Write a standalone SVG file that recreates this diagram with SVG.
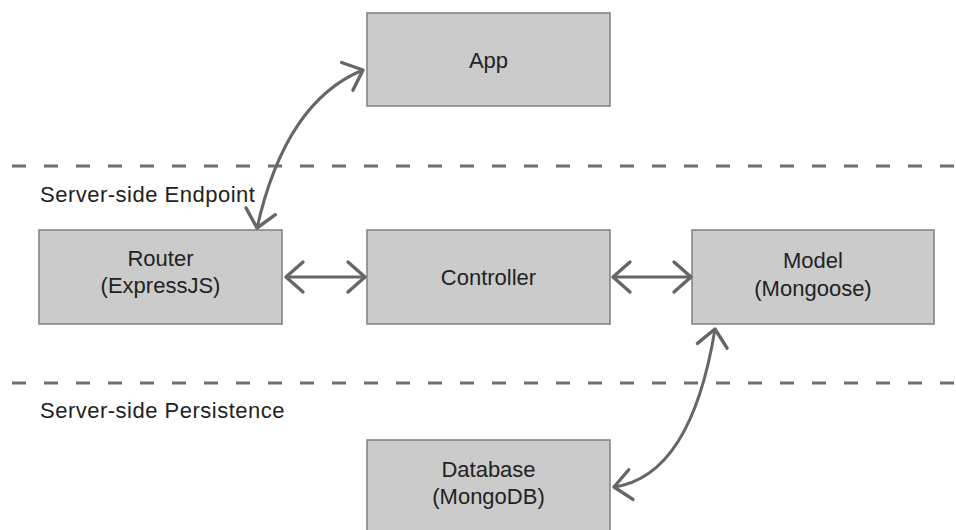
<svg xmlns="http://www.w3.org/2000/svg" width="956" height="530" viewBox="0 0 956 530">
<defs>
<style>
.box{fill:#cbcbcb;stroke:#858585;stroke-width:1.6}
.lbl{font-family:"Liberation Sans",Arial,sans-serif;font-size:22px;fill:#222;text-anchor:middle}
.sec{font-family:"Liberation Sans",Arial,sans-serif;font-size:22px;letter-spacing:0.5px;fill:#222}
.div{stroke:#6e6e6e;stroke-width:3;stroke-dasharray:14 18;fill:none}
.conn{stroke:#666;stroke-width:3;fill:none;marker-start:url(#chev);marker-end:url(#chev)}
</style>
<marker id="chev" markerUnits="userSpaceOnUse" viewBox="-20 -18 24 36" markerWidth="24" markerHeight="36" refX="0" refY="0" orient="auto-start-reverse">
<path d="M-17,-15 L0,0 L-17,15" fill="none" stroke="#666" stroke-width="3.4" stroke-linecap="round" stroke-linejoin="round"/>
</marker>
</defs>
<rect width="956" height="530" fill="#ffffff"/>
<g id="dividers">
<line class="div" x1="12" y1="166" x2="956" y2="166"/>
<line class="div" x1="12" y1="383" x2="956" y2="383"/>
</g>
<g id="section-labels">
<text class="sec" x="40" y="202">Server-side Endpoint</text>
<text class="sec" x="40" y="418">Server-side Persistence</text>
</g>
<g id="node-app">
<rect class="box" x="367" y="13" width="243" height="93"/>
<text class="lbl" x="488.5" y="68">App</text>
</g>
<g id="node-router">
<rect class="box" x="39" y="230" width="243" height="94"/>
<text class="lbl" x="160.5" y="266">Router</text>
<text class="lbl" x="160.5" y="293">(ExpressJS)</text>
</g>
<g id="node-controller">
<rect class="box" x="367" y="230" width="243" height="94"/>
<text class="lbl" x="488.5" y="285">Controller</text>
</g>
<g id="node-model">
<rect class="box" x="692" y="230" width="242" height="94"/>
<text class="lbl" x="813" y="268">Model</text>
<text class="lbl" x="813" y="296">(Mongoose)</text>
</g>
<g id="node-database">
<rect class="box" x="367" y="440" width="243" height="100"/>
<text class="lbl" x="488.5" y="477">Database</text>
<text class="lbl" x="488.5" y="504">(MongoDB)</text>
</g>
<g id="connectors">
<path class="conn" d="M257,228 Q285.6,101.4 363,70"/>
<path class="conn" d="M286,277 L365,277"/>
<path class="conn" d="M613,277 L691,277"/>
<path class="conn" d="M715,329 Q691,476 614,487"/>
</g>
</svg>
